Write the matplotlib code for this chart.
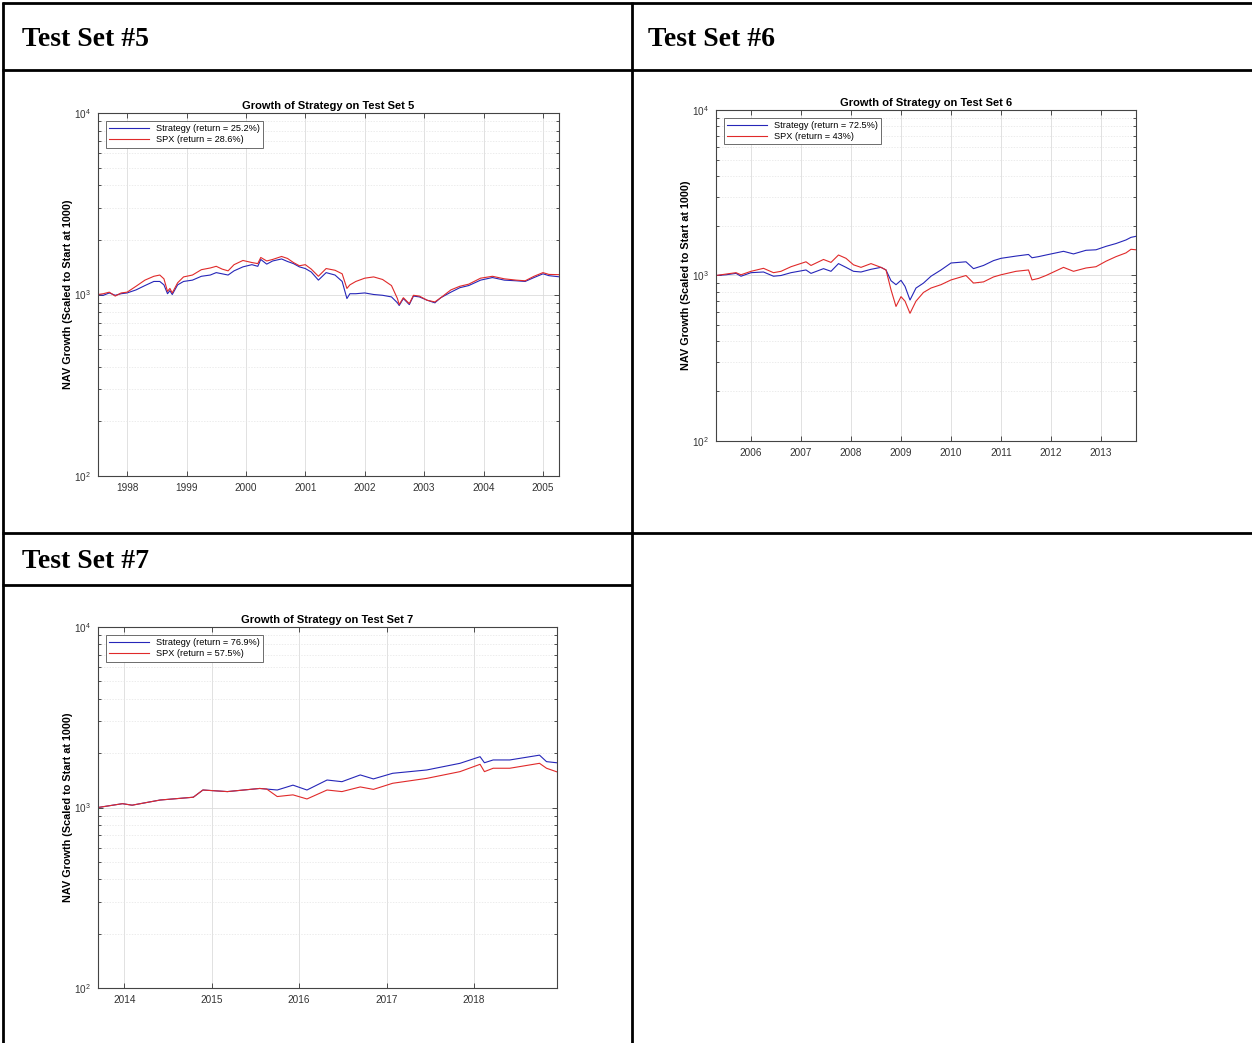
import matplotlib.pyplot as plt
from matplotlib.ticker import FixedLocator, LogLocator, NullFormatter

plt.rcParams['font.family'] = ['Liberation Sans', 'DejaVu Sans']

# Test Set 5 (decimal years, NAV)
t5 = [1997.51, 1997.6, 1997.7, 1997.8, 1997.9, 1998.0, 1998.15, 1998.3, 1998.45, 1998.55,
      1998.62, 1998.68, 1998.72, 1998.76, 1998.85, 1998.95, 1999.1, 1999.25, 1999.4, 1999.5,
      1999.6, 1999.7, 1999.8, 1999.95, 2000.1, 2000.2, 2000.25, 2000.35, 2000.45, 2000.6,
      2000.7, 2000.8, 2000.9, 2001.0, 2001.1, 2001.22, 2001.35, 2001.5, 2001.62, 2001.7,
      2001.75, 2001.85, 2002.0, 2002.15, 2002.3, 2002.45, 2002.55, 2002.58, 2002.65, 2002.75,
      2002.82, 2002.92, 2003.05, 2003.18, 2003.28, 2003.45, 2003.6, 2003.75, 2003.95, 2004.15,
      2004.35, 2004.55, 2004.7, 2004.85, 2005.0, 2005.1, 2005.27]
strat5 = [1000, 990, 1020, 990, 1010, 1020, 1060, 1120, 1180, 1180,
          1130, 1010, 1050, 1000, 1130, 1180, 1200, 1260, 1280, 1320,
          1300, 1280, 1350, 1420, 1460, 1430, 1560, 1470, 1530, 1570,
          1520, 1480, 1420, 1390, 1330, 1200, 1320, 1280, 1180, 950,
          1010, 1010, 1020, 1000, 990, 970, 900, 870, 950, 880,
          980, 970, 930, 900, 960, 1030, 1090, 1120, 1200, 1240,
          1200, 1190, 1180, 1240, 1300, 1270, 1252]
spx5 = [1000, 1010, 1030, 980, 1020, 1030, 1110, 1200, 1260, 1280,
        1220, 1040, 1080, 1020, 1160, 1250, 1280, 1370, 1400, 1430,
        1380, 1350, 1460, 1540, 1500, 1480, 1600, 1530, 1560, 1620,
        1580, 1500, 1440, 1460, 1380, 1260, 1390, 1360, 1300, 1080,
        1130, 1180, 1230, 1250, 1210, 1120, 950, 880, 960, 890,
        990, 980, 930, 910, 960, 1060, 1110, 1140, 1230, 1260,
        1220, 1200, 1190, 1260, 1320, 1290, 1286]

# Test Set 6
t6 = [2005.3, 2005.5, 2005.7, 2005.8, 2006.0, 2006.25, 2006.45, 2006.6, 2006.8, 2007.1,
      2007.2, 2007.45, 2007.6, 2007.75, 2007.9, 2008.05, 2008.2, 2008.4, 2008.6, 2008.7,
      2008.8, 2008.9, 2009.0, 2009.08, 2009.18, 2009.3, 2009.45, 2009.6, 2009.8, 2010.0,
      2010.3, 2010.45, 2010.65, 2010.85, 2011.0, 2011.3, 2011.55, 2011.62, 2011.75, 2011.9,
      2012.25, 2012.45, 2012.7, 2012.9, 2013.1, 2013.3, 2013.5, 2013.6, 2013.7]
strat6 = [1000, 1010, 1030, 990, 1040, 1050, 990, 1000, 1040, 1080,
          1030, 1100, 1060, 1180, 1120, 1060, 1050, 1090, 1120, 1080,
          930, 880, 935, 860, 711, 840, 900, 990, 1080, 1190,
          1210, 1100, 1150, 1230, 1270, 1310, 1340, 1280, 1300, 1330,
          1400, 1350, 1420, 1430, 1500, 1560, 1640, 1700, 1725]
spx6 = [1000, 1020, 1040, 1010, 1060, 1105, 1040, 1060, 1130, 1210,
        1150, 1250, 1200, 1330, 1270, 1160, 1120, 1180, 1120, 1080,
        820, 650, 745, 700, 591, 700, 790, 840, 880, 940,
        1000, 900, 915, 980, 1010, 1060, 1080, 940, 960, 1000,
        1120, 1060, 1110, 1130, 1220, 1300, 1370, 1440, 1430]

# Test Set 7
t7 = [2013.7, 2013.98, 2014.09, 2014.41, 2014.79, 2014.9, 2015.18, 2015.55, 2015.63, 2015.75,
      2015.93, 2016.09, 2016.32, 2016.49, 2016.7, 2016.85, 2017.07, 2017.46, 2017.84, 2018.07,
      2018.12, 2018.22, 2018.41, 2018.75, 2018.83, 2018.95]
strat7 = [1000, 1050, 1030, 1100, 1140, 1250, 1225, 1275, 1265, 1250,
          1330, 1250, 1420, 1390, 1515, 1440, 1547, 1614, 1757, 1912,
          1770, 1834, 1834, 1950, 1795, 1769]
spx7 = [1000, 1050, 1030, 1100, 1140, 1250, 1225, 1275, 1265, 1150,
        1175, 1115, 1250, 1225, 1300, 1260, 1362, 1450, 1580, 1735,
        1580, 1650, 1650, 1757, 1650, 1575]

panels = [
    ('Growth of Strategy on Test Set 5', t5, strat5, spx5, '25.2%', '28.6%',
     range(1998, 2006), (98, 113, 559, 476)),
    ('Growth of Strategy on Test Set 6', t6, strat6, spx6, '72.5%', '43%',
     range(2006, 2014), (716, 110, 1136, 441)),
    ('Growth of Strategy on Test Set 7', t7, strat7, spx7, '76.9%', '57.5%',
     range(2014, 2019), (98, 627, 557, 988)),
]

W, H = 1252, 1043
fig = plt.figure(figsize=(W / 100, H / 100), dpi=100)

# table frame drawn on a full-figure axes in pixel coordinates
bg = fig.add_axes([0, 0, 1, 1])
bg.set_xlim(0, W)
bg.set_ylim(H, 0)
bg.axis('off')
lk = dict(color='black', lw=2.0, solid_capstyle='butt')
bg.plot([2, W], [3, 3], **lk)
bg.plot([3, 3], [2, H], **lk)
bg.plot([632, 632], [2, H], **lk)
bg.plot([2, W], [70, 70], **lk)
bg.plot([2, W], [533, 533], **lk)
bg.plot([2, 632], [585, 585], **lk)
hk = dict(family=['Liberation Serif', 'DejaVu Serif'], fontweight='bold', fontsize=20,
          va='center', ha='left')
bg.text(22, 39, 'Test Set #5', **hk)
bg.text(648, 39, 'Test Set #6', **hk)
bg.text(22, 561, 'Test Set #7', **hk)

blue = '#2626b8'
red = '#e02a2a'
for title, t, s, p, rs, rp, years, (x0, y0, x1, y1) in panels:
    ax = fig.add_axes([x0 / W, 1 - y1 / H, (x1 - x0) / W, (y1 - y0) / H])
    ax.plot(t, s, color=blue, lw=0.8, label='Strategy (return = %s)' % rs)
    ax.plot(t, p, color=red, lw=0.8, label='SPX (return = %s)' % rp)
    ax.set_yscale('log')
    ax.set_ylim(100, 10000)
    ax.set_xlim(t[0], t[-1])
    ax.xaxis.set_major_locator(FixedLocator(list(years)))
    ax.set_xticklabels([str(y) for y in years])
    ax.yaxis.set_major_locator(LogLocator(base=10))
    ax.yaxis.set_minor_locator(LogLocator(base=10, subs=range(2, 10)))
    ax.yaxis.set_minor_formatter(NullFormatter())
    ax.grid(True, which='major', color='#dcdcdc', lw=0.6)
    ax.grid(True, which='minor', axis='y', color='#e4e4e4', lw=0.5, ls=(0, (2, 2)))
    ax.tick_params(which='both', direction='in', top=True, right=True,
                   labelsize=7.2, colors='#333333', length=3.5, width=0.6, pad=5)
    ax.tick_params(which='minor', length=2)
    for sp in ax.spines.values():
        sp.set_color('#444444')
        sp.set_linewidth(0.8)
    ax.set_title(title, fontsize=8, fontweight='bold', pad=3)
    ax.set_ylabel('NAV Growth (Scaled to Start at 1000)', fontsize=7.8, fontweight='bold',
                  labelpad=1)
    leg = ax.legend(loc='upper left', fontsize=6.6, fancybox=False, framealpha=1,
                    edgecolor='#555555', handlelength=4.3, borderpad=0.35, labelspacing=0.2,
                    borderaxespad=0.9)
    leg.get_frame().set_linewidth(0.6)

fig.savefig('out.png', dpi=100)
